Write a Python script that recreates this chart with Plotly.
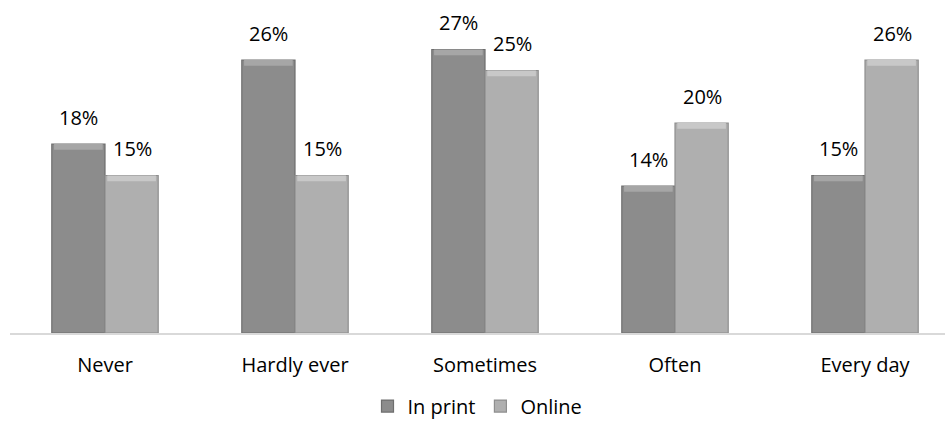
import plotly.graph_objects as go

categories = ["Never", "Hardly ever", "Sometimes", "Often", "Every day"]
in_print = [18, 26, 27, 14, 15]
online = [15, 15, 25, 20, 26]
series_names = ["In print", "Online"]

FONT = "'Open Sans', sans-serif"
BAR_W = 0.28     # width of one bar in category units
CAP = 0.55       # height of the bevel highlight at the top of each bar

styles = [
    # (values, offset, body, edge, highlight)
    (in_print, -BAR_W, "#8c8c8c", "#6e6e6e", "#a6a6a6"),
    (online, 0.0, "#afafaf", "#8e8e8e", "#c8c8c8"),
]

fig = go.Figure()
for name, (vals, off, body, edge, hi) in zip(series_names, styles):
    fig.add_trace(go.Bar(
        name=name, x=categories, y=vals, offset=off, width=BAR_W,
        marker=dict(color=body, line=dict(color=edge, width=1.2)),
    ))
    # lighter bevel band along the top edge
    fig.add_trace(go.Bar(
        x=categories, y=[CAP] * len(vals), base=[v - CAP for v in vals],
        offset=off + 0.012, width=BAR_W - 0.024,
        marker=dict(color=hi, line=dict(width=0)),
        showlegend=False, hoverinfo="skip",
    ))

# value labels above each bar
for vals, shift in ((in_print, -27), (online, 27)):
    for cat, v in zip(categories, vals):
        fig.add_annotation(
            x=cat, y=v, xref="x", yref="y", text=f"{v}%",
            showarrow=False, xshift=shift, yshift=27, yanchor="middle",
            font=dict(family=FONT, size=20, color="#000000"),
        )

fig.update_layout(
    width=945, height=427,
    margin=dict(l=10, r=0, t=18, b=94),
    paper_bgcolor="white", plot_bgcolor="white",
    barmode="overlay",
    font=dict(family=FONT, size=20, color="#000000"),
    showlegend=True,
    legend=dict(orientation="h", x=0.5, xanchor="center", y=-0.17, yanchor="top",
                font=dict(family=FONT, size=20, color="#000000"),
                itemwidth=30, tracegroupgap=0),
    xaxis=dict(range=[-0.5, 4.421], showgrid=False, showline=True,
               linecolor="#d9d9d9", linewidth=2, ticks="",
               ticklabelstandoff=13, tickfont=dict(family=FONT, size=20, color="#000000")),
    yaxis=dict(range=[0, 30], visible=False, showgrid=False, zeroline=False),
)

fig.write_html("out.html")
